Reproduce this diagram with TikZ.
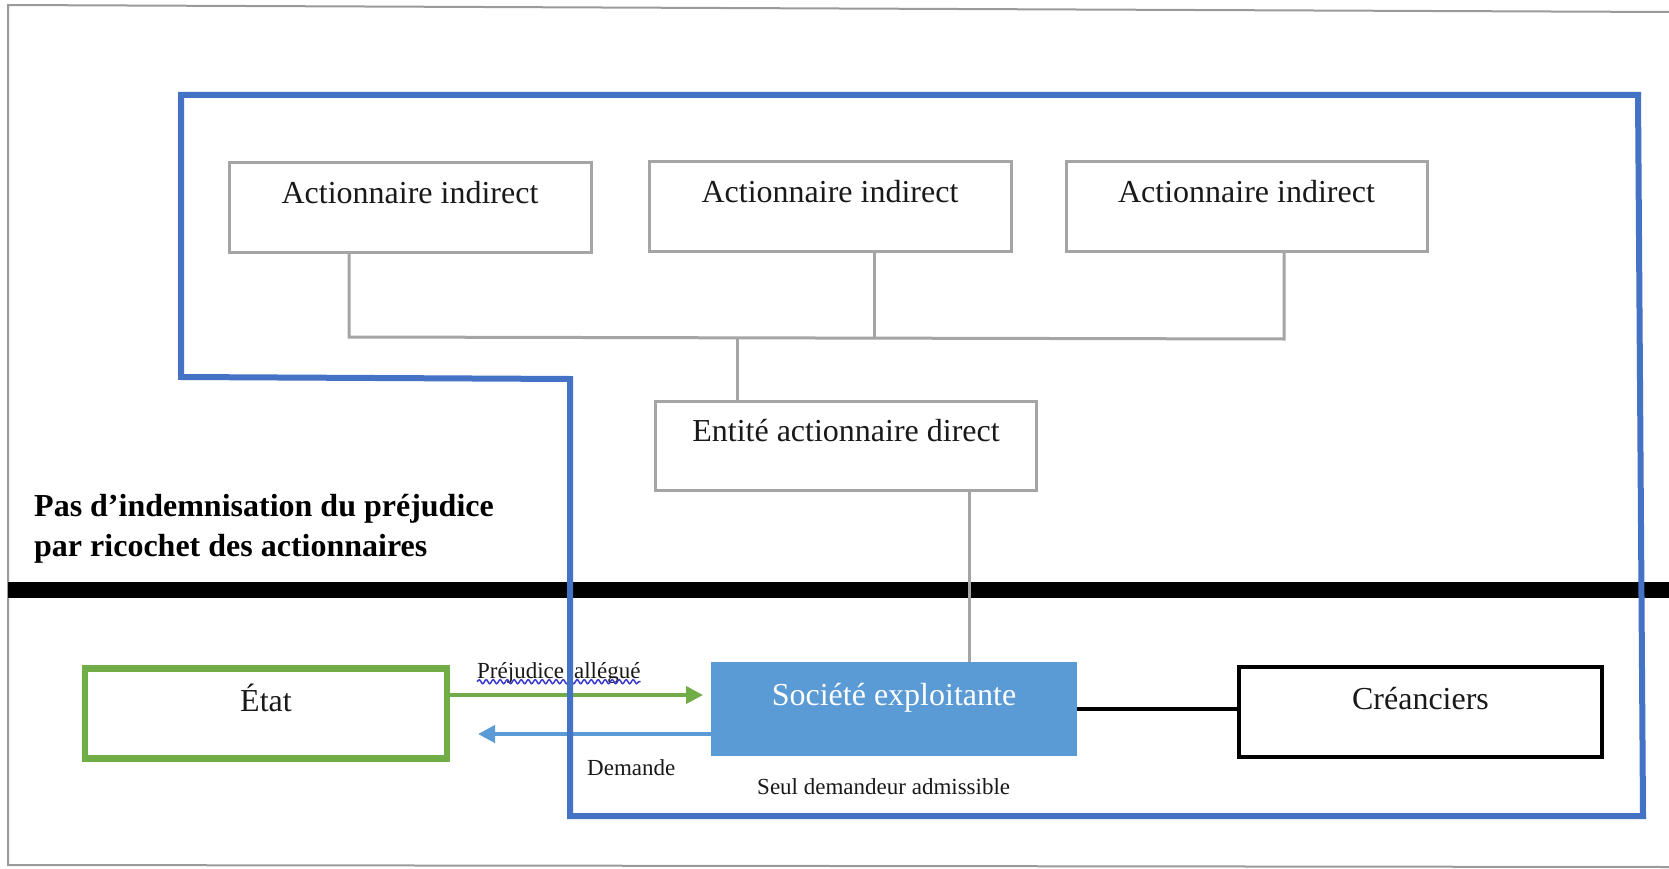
\documentclass[tikz,border=0pt]{standalone}
\usepackage{fontspec}
\setmainfont{Liberation Serif}
\usetikzlibrary{arrows.meta,decorations.pathmorphing}
\definecolor{frameblue}{HTML}{4472C4}
\definecolor{socblue}{HTML}{5B9BD5}
\definecolor{etatgreen}{HTML}{70AD47}
\definecolor{boxgray}{HTML}{A5A5A5}
\definecolor{framegray}{HTML}{9A9A9A}
\definecolor{wavyblue}{HTML}{3B3BD0}
\newcommand{\bigfs}{\fontsize{32}{38}\selectfont}
\newcommand{\smallfs}{\fontsize{23}{28}\selectfont}
\tikzset{
  gbox/.style={draw=boxgray, line width=3pt, inner sep=0pt, anchor=north,
    minimum width=#1, text height=40.5pt, text depth=48.5pt, font=\bigfs, text=black!90},
  etatbox/.style={draw=etatgreen, line width=6.5pt, inner sep=0pt, anchor=north,
    minimum width=#1, text height=43pt, text depth=47pt, font=\bigfs, text=black!90},
  socbox/.style={fill=socblue, draw=none, inner sep=0pt, anchor=north,
    minimum width=#1, text height=43pt, text depth=51pt, font=\bigfs, text=white},
  crebox/.style={draw=black, line width=4pt, inner sep=0pt, anchor=north,
    minimum width=#1, text height=42pt, text depth=48pt, font=\bigfs, text=black!90},
  link/.style={draw=boxgray, line width=3pt},
  garrow/.style={draw=etatgreen, line width=4pt, -{Triangle[length=17pt,width=17pt]}},
  barrow/.style={draw=socblue, line width=4pt, -{Triangle[length=17pt,width=17pt]}},
  smalltext/.style={inner sep=0pt, anchor=base west, font=\smallfs, text=black!90},
  boldtext/.style={inner sep=0pt, anchor=base west, font=\bigfs\bfseries, text=black},
  wavy/.style={draw=wavyblue, line width=1.5pt, decorate,
    decoration={snake, amplitude=2pt, segment length=7pt}},
}
\begin{document}
\begin{tikzpicture}[x=1pt,y=-1pt]
\useasboundingbox (0,0) rectangle (1669,869);
\fill[white] (0,0) rectangle (1669,869);

% outer frame (right side beyond the picture)
\draw[framegray, line width=2pt] (1669,12) -- (8,5) -- (8,865) -- (1669,867);

% thick black separator
\fill[black] (8,582) rectangle (1669,598);

% boxes
\node[gbox=362] (a1) at (410,161.5) {Actionnaire indirect};
\node[gbox=362] (a2) at (830,160.5) {Actionnaire indirect};
\node[gbox=361] (a3) at (1246.5,160.5) {Actionnaire indirect};
\node[gbox=381] (ent) at (846,399.5) {Entité actionnaire direct};
\node[etatbox=362] (etat) at (266,665) {État};
\node[socbox=366] (soc) at (894,662) {Société exploitante};
\node[crebox=363] (cre) at (1420.5,665) {Créanciers};

% connectors between shareholders
\coordinate (j1) at (349,337);
\coordinate (j2) at (874,338);
\coordinate (j3) at (1284,339);
\coordinate (jm) at (737,338);
\coordinate (k) at (969,540);
\draw[link] (a1.south -| j1) -- (j1) -- (j3) -- (a3.south -| j3);
\draw[link] (a2.south -| j2) -- (j2);
\draw[link] (jm) -- (ent.north -| jm);
\draw[link] (ent.south -| k) -- (soc.north -| k);

% société -- créanciers
\coordinate (bl) at (1150,709);
\draw[black, line width=4pt] (soc.east |- bl) -- (cre.west |- bl);

% arrows
\coordinate (gtip) at (703,695);
\coordinate (btip) at (478,734);
\draw[garrow] (etat.east |- gtip) -- (gtip);
\draw[barrow] (soc.west |- btip) -- (btip);

% labels
\node[smalltext] (pj) at (477,678) {Préjudice\hspace{10pt}allégué};
\draw[wavy] ([yshift=1.5pt]pj.south west) -- ([yshift=1.5pt]pj.south east);
\node[smalltext] (dem) at (587,775) {Demande};
\node[smalltext] (seul) at (757,794) {Seul demandeur admissible};
\node[boldtext] (t1) at (34,516) {Pas d’indemnisation du préjudice};
\node[boldtext] (t2) at (34,556) {par ricochet des actionnaires};

% blue perimeter
\draw[frameblue, line width=6pt, line join=miter]
  (181,95) -- (1638,95) -- (1643,816) -- (570,816) -- (570,379) -- (181,377) -- cycle;
\end{tikzpicture}
\end{document}
